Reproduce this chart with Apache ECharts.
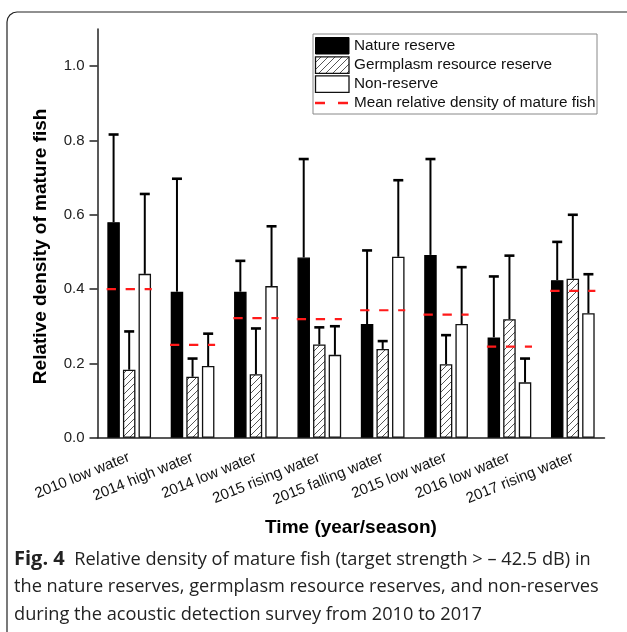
<!DOCTYPE html>
<html>
<head>
<meta charset="utf-8">
<script src="https://cdn.jsdelivr.net/npm/echarts@6/dist/echarts.min.js"></script>
<style>
html,body{margin:0;padding:0;background:#fff;}
#chart{width:627px;height:632px;}
</style>
</head>
<body>
<div id="chart"></div>
<script>
const categories = ['2010 low water','2014 high water','2014 low water','2015 rising water','2015 falling water','2015 low water','2016 low water','2017 rising water'];
const natureReserve = [0.580,0.393,0.393,0.485,0.306,0.492,0.270,0.424];
const natureReserveUpper = [0.816,0.697,0.476,0.750,0.504,0.750,0.434,0.527];
const germplasmReserve = [0.183,0.164,0.171,0.251,0.239,0.198,0.319,0.428];
const germplasmReserveUpper = [0.286,0.213,0.294,0.297,0.260,0.276,0.490,0.600];
const nonReserve = [0.441,0.193,0.408,0.223,0.487,0.306,0.149,0.335];
const nonReserveUpper = [0.656,0.280,0.569,0.300,0.693,0.459,0.213,0.440];
const meanDensity = [0.400,0.250,0.322,0.319,0.343,0.331,0.245,0.395];
const yTicks = [0,0.2,0.4,0.6,0.8,1.0];
const seriesNames = ['Nature reserve','Germplasm resource reserve','Non-reserve','Mean relative density of mature fish'];

// hatch pattern
function makeHatch(){
  const s = 7;
  const c = document.createElement('canvas');
  c.width = s; c.height = s;
  const g = c.getContext('2d');
  g.fillStyle = '#fff'; g.fillRect(0,0,s,s);
  g.strokeStyle = '#444'; g.lineWidth = 0.9;
  g.beginPath();
  g.moveTo(0,s); g.lineTo(s,0);
  g.moveTo(-1,1); g.lineTo(1,-1);
  g.moveTo(s-1,s+1); g.lineTo(s+1,s-1);
  g.stroke();
  return c;
}
const hatch = makeHatch();

const BAR_W = 12.5;
const BAR_OFFSET = 15.6;
const FONT = 'Arial, "Liberation Sans", sans-serif';

function errorSeries(name, vals, uppers, idx){
  return {
    type:'custom', name: name + ' err', z: 5,
    data: vals.map((v,i)=>[i, v, uppers[i]]),
    encode:{x:0, y:[1,2]},
    renderItem: function(params, api){
      const i = api.value(0);
      const b = api.coord([i, api.value(1)]);
      const t = api.coord([i, api.value(2)]);
      const x = b[0] + (idx-1)*BAR_OFFSET;
      return {type:'group', children:[
        {type:'line', shape:{x1:x,y1:b[1],x2:x,y2:t[1]}, style:{stroke:'#000',lineWidth:2}},
        {type:'line', shape:{x1:x-5,y1:t[1],x2:x+5,y2:t[1]}, style:{stroke:'#000',lineWidth:2.6}}
      ]};
    }
  };
}

const chart = echarts.init(document.getElementById('chart'), null, {renderer:'canvas'});
const option = {
  animation:false,
  backgroundColor:'#fff',
  grid:{left:97.5, right:22.5, top:29, bottom:194.3},
  xAxis:{
    type:'category', data:categories, boundaryGap:true,
    axisLine:{lineStyle:{color:'#222', width:1.5}},
    axisTick:{alignWithLabel:true, length:6, lineStyle:{color:'#222', width:1.5}},
    axisLabel:{rotate:22, fontSize:15, margin:19, color:'#111', fontFamily:FONT, interval:0},
    name:'Time (year/season)', nameLocation:'middle', nameGap:81,
    nameTextStyle:{fontSize:19, fontWeight:'bold', color:'#000', fontFamily:FONT}
  },
  yAxis:{
    type:'value', min:0, max:1.1,
    splitLine:{show:false},
    axisLine:{show:true, lineStyle:{color:'#222', width:1.5}},
    axisTick:{show:true, length:8, customValues:yTicks, lineStyle:{color:'#222', width:1.5}},
    axisLabel:{customValues:yTicks, fontSize:15, margin:13, color:'#222', fontFamily:FONT, formatter:v=>v.toFixed(1)},
    name:'Relative density of mature fish', nameLocation:'middle', nameGap:47,
    nameTextStyle:{fontSize:19, fontWeight:'bold', color:'#000', fontFamily:FONT, padding:[0,26,0,0]}
  },
  series:[
    {type:'bar', name:seriesNames[0], data:natureReserve, barWidth:BAR_W, barGap:'24.8%',
     itemStyle:{color:'#000', borderColor:'#000', borderWidth:1.3}},
    {type:'bar', name:seriesNames[1], data:germplasmReserve, barWidth:BAR_W, barGap:'24.8%',
     itemStyle:{color:{image:hatch, repeat:'repeat'}, borderColor:'#111', borderWidth:1.3}},
    {type:'bar', name:seriesNames[2], data:nonReserve, barWidth:BAR_W, barGap:'24.8%',
     itemStyle:{color:'#fff', borderColor:'#111', borderWidth:1.3}},
    errorSeries(seriesNames[0], natureReserve, natureReserveUpper, 0),
    errorSeries(seriesNames[1], germplasmReserve, germplasmReserveUpper, 1),
    errorSeries(seriesNames[2], nonReserve, nonReserveUpper, 2),
    {type:'custom', name:seriesNames[3], z:10,
     data: meanDensity.map((v,i)=>[i,v]), encode:{x:0,y:1},
     renderItem:function(params, api){
       const p = api.coord([api.value(0), api.value(1)]);
       const half = BAR_OFFSET + BAR_W/2 + 0.7;
       return {type:'line', shape:{x1:p[0]-half, y1:p[1], x2:p[0]+half, y2:p[1]},
         style:{stroke:'#ff1a1a', lineWidth:2.2, lineDash:[9.3,9.7]}};
     }}
  ],
  graphic:[
    {type:'polyline', shape:{points:[[7,632],[7,22],[7.76,18.17],[9.93,14.93],[13.17,12.76],[17,12],[627,12]]}, style:{fill:null, stroke:'#222', lineWidth:1.2}},
    {type:'rect', shape:{x:313, y:34, width:284, height:80}, style:{fill:'#fff', stroke:'#888', lineWidth:1}, z:50},
    {type:'rect', shape:{x:315.5, y:37.5, width:33.5, height:16.5}, style:{fill:'#000', stroke:'#000', lineWidth:1}, z:51},
    {type:'rect', shape:{x:315.5, y:56.8, width:33.5, height:16.5}, style:{fill:{image:hatch, repeat:'repeat'}, stroke:'#111', lineWidth:1.3}, z:51},
    {type:'rect', shape:{x:315.5, y:75.8, width:33.5, height:16.5}, style:{fill:'#fff', stroke:'#111', lineWidth:1.3}, z:51},
    {type:'line', shape:{x1:315, y1:103, x2:325, y2:103}, style:{stroke:'#ff1a1a', lineWidth:2.5}, z:51},
    {type:'line', shape:{x1:338, y1:103, x2:348, y2:103}, style:{stroke:'#ff1a1a', lineWidth:2.5}, z:51},
    {type:'text', x:354, y:45.7, style:{text:seriesNames[0], fontSize:15.3, fontFamily:FONT, fill:'#111', verticalAlign:'middle'}, z:51},
    {type:'text', x:354, y:65, style:{text:seriesNames[1], fontSize:15.3, fontFamily:FONT, fill:'#111', verticalAlign:'middle'}, z:51},
    {type:'text', x:354, y:84, style:{text:seriesNames[2], fontSize:15.3, fontFamily:FONT, fill:'#111', verticalAlign:'middle'}, z:51},
    {type:'text', x:354, y:103, style:{text:seriesNames[3], fontSize:15.3, fontFamily:FONT, fill:'#111', verticalAlign:'middle'}, z:51},
    {type:'text', x:14, y:546, style:{
      text:'{b|Fig. 4}  Relative density of mature fish (target strength > – 42.5 dB) in\nthe nature reserves, germplasm resource reserves, and non-reserves\nduring the acoustic detection survey from 2010 to 2017',
      fontSize:18.2, lineHeight:27.5, fontFamily:'"Open Sans", sans-serif', fill:'#222',
      rich:{b:{fontSize:20, fontWeight:'bold', fontFamily:'"Open Sans", sans-serif', fill:'#222', lineHeight:27.5}}
    }}
  ]
};
chart.setOption(option);
</script>
</body>
</html>
